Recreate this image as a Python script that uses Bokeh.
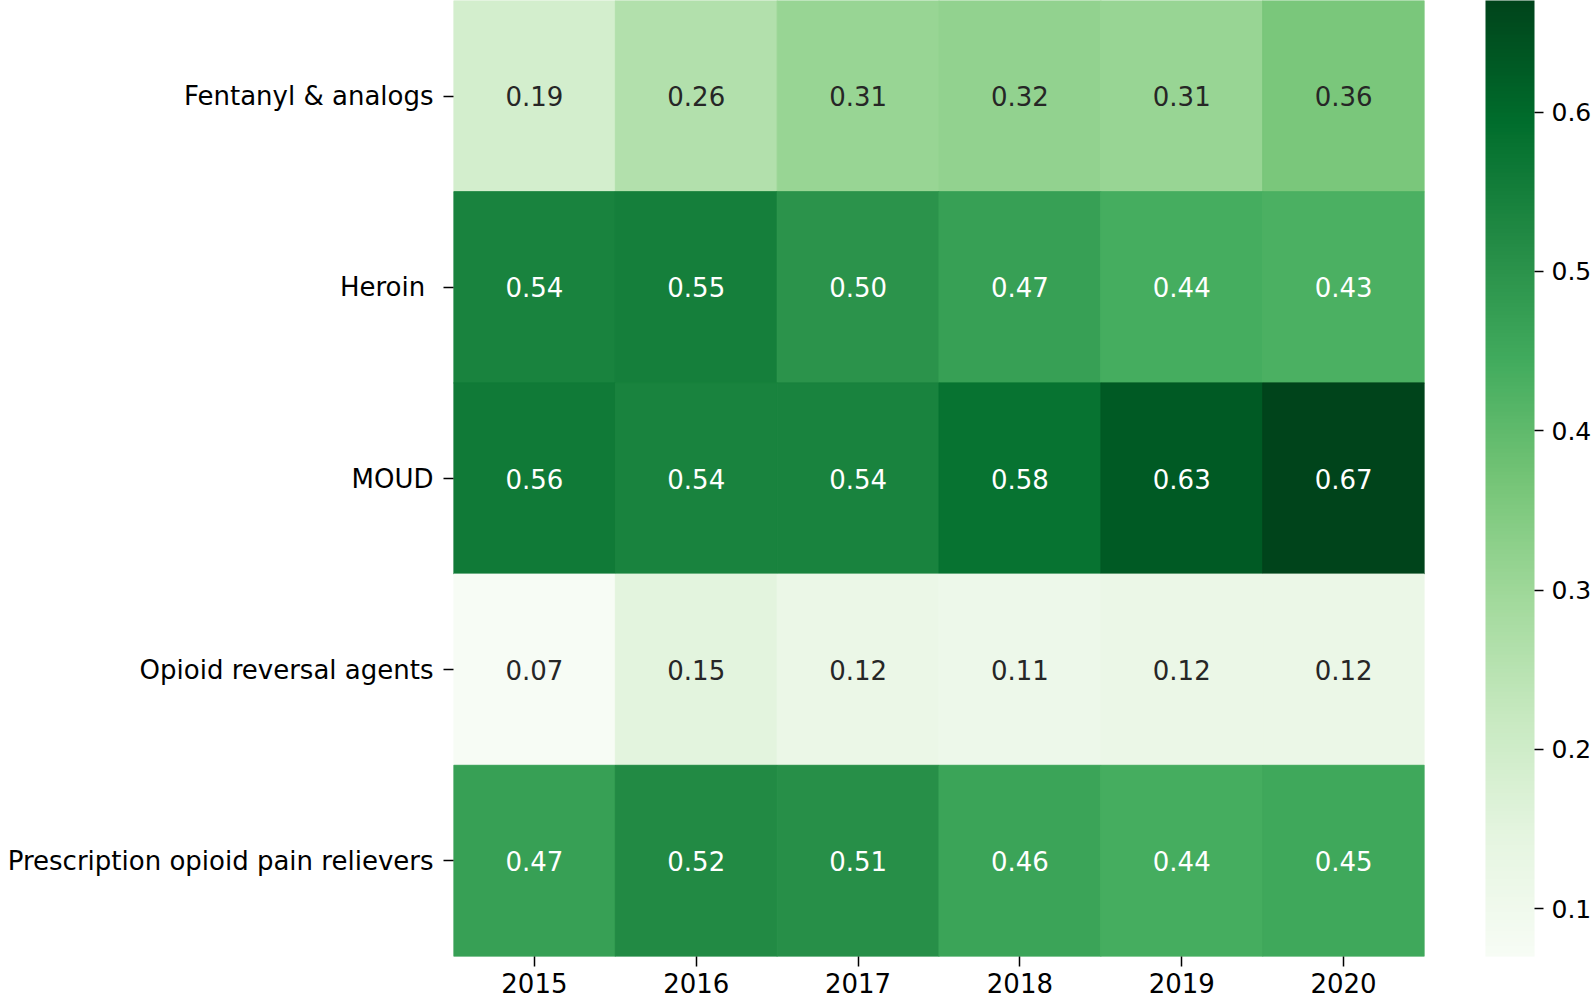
from bokeh.plotting import figure
from bokeh.models import ColumnDataSource, LinearColorMapper, ColorBar, FixedTicker
from bokeh.palettes import Greens256
from bokeh.core.properties import value
from bokeh.embed import file_html
from bokeh.resources import INLINE

years = ["2015", "2016", "2017", "2018", "2019", "2020"]
categories = ["Fentanyl & analogs", "Heroin ", "MOUD", "Opioid reversal agents",
              "Prescription opioid pain relievers"]
fentanyl = [0.19, 0.26, 0.31, 0.32, 0.31, 0.36]
heroin = [0.54, 0.55, 0.50, 0.47, 0.44, 0.43]
moud = [0.56, 0.54, 0.54, 0.58, 0.63, 0.67]
reversal = [0.07, 0.15, 0.12, 0.11, 0.12, 0.12]
prescription = [0.47, 0.52, 0.51, 0.46, 0.44, 0.45]
cbar_ticks = [0.1, 0.2, 0.3, 0.4, 0.5, 0.6]

rows = [fentanyl, heroin, moud, reversal, prescription]
xs, ys, vals, labels, tcols = [], [], [], [], []
for cat, row in zip(categories, rows):
    for yr, v in zip(years, row):
        xs.append(yr)
        ys.append(cat)
        vals.append(v)
        labels.append(f"{v:.2f}")
        tcols.append("white" if v > 0.4 else "#262626")

src = ColumnDataSource(dict(x=xs, y=ys, v=vals, label=labels, tc=tcols))

palette = list(reversed(Greens256))
mapper = LinearColorMapper(palette=palette, low=min(vals), high=max(vals))

FONT = "DejaVu Sans"
FS = "26px"
p = figure(x_range=years, y_range=list(reversed(categories)),
           frame_width=971, frame_height=956,
           min_border_left=453, min_border_top=0, min_border_right=166, min_border_bottom=46,
           output_backend="svg", toolbar_location=None)
p.outline_line_color = None
p.grid.grid_line_color = None

p.rect(x="x", y="y", width=1, height=1, source=src,
       fill_color={"field": "v", "transform": mapper},
       line_color={"field": "v", "transform": mapper}, line_width=1)
p.text(x="x", y="y", text="label", source=src, text_align="center",
       text_baseline="middle", text_color="tc",
       text_font=value(FONT), text_font_size=FS)

for ax in (p.xaxis[0], p.yaxis[0]):
    ax.axis_line_color = None
    ax.major_tick_in = 0
    ax.major_tick_out = 10
    ax.minor_tick_line_color = None
    ax.major_label_text_font = FONT
    ax.major_label_text_font_size = FS
    ax.major_label_text_color = "black"
    ax.major_tick_line_color = "black"
    ax.major_tick_line_width = 1.5
p.yaxis.major_label_standoff = 10
p.xaxis.major_label_standoff = 6

cb = ColorBar(color_mapper=mapper, ticker=FixedTicker(ticks=cbar_ticks),
              width=49, padding=0, margin=0, location=(61, 0),
              major_tick_in=0, major_tick_out=9, major_tick_line_color="black",
              major_tick_line_width=1.5, minor_tick_line_color=None,
              major_label_text_font=FONT, major_label_text_font_size="25px",
              major_label_text_color="black",
              label_standoff=8, bar_line_color=None, border_line_color=None,
              background_fill_color=None)
p.add_layout(cb, "right")

open("out.html", "w").write(file_html(p, INLINE))
